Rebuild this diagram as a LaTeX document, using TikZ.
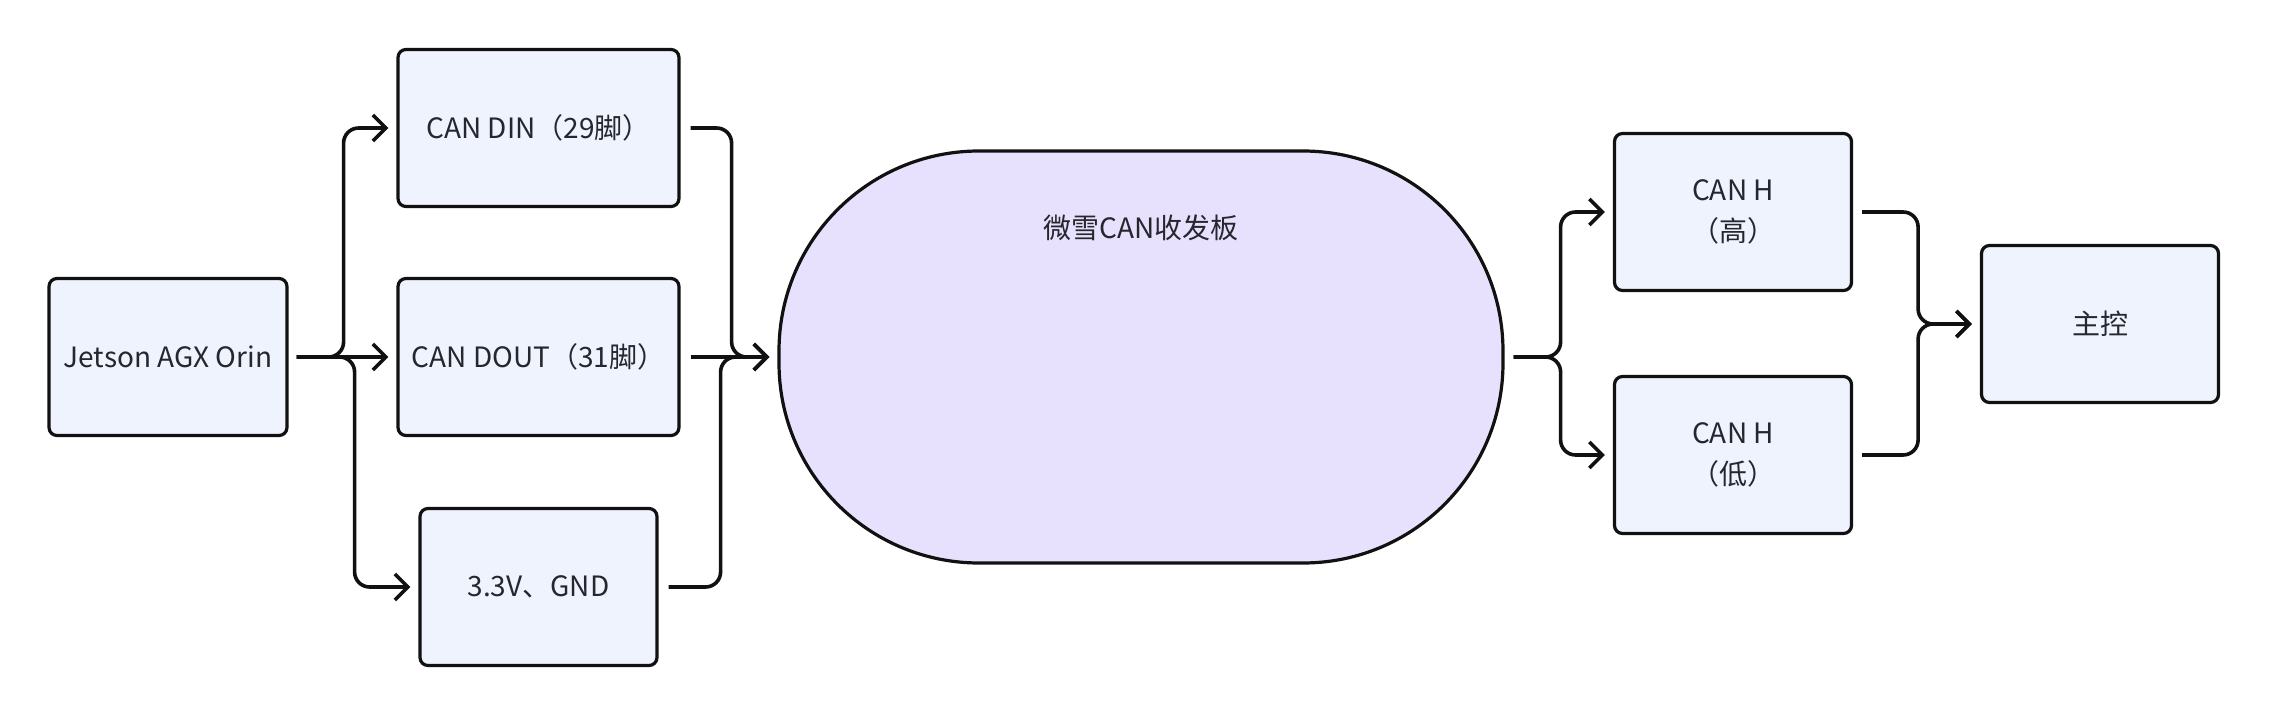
\documentclass[tikz,border=0pt]{standalone}
\usepackage{fontspec}
\setmainfont{Noto Sans CJK SC}
\usetikzlibrary{arrows.meta}
\definecolor{boxfill}{HTML}{EEF3FD}
\definecolor{boardfill}{HTML}{E8E1FD}
\definecolor{txt}{HTML}{26262E}
\definecolor{edge}{HTML}{111111}
\begin{document}
\begin{tikzpicture}[x=1pt,y=-1pt,
  blockbox/.style={draw=edge, fill=boxfill, line width=3.2pt, rounded corners=8pt,
    inner sep=0pt, align=center, text=txt, font=\fontsize{28}{41}\selectfont},
  conn/.style={draw=edge, line width=3.6pt, rounded corners=15pt,
    -{Straight Barb[length=13pt,width=26pt,line width=3.6pt]}}]
\useasboundingbox (0,0) rectangle (2270,714);
% nodes
\node[blockbox, minimum width=238pt, minimum height=157pt] (j) at (168,357) {Jetson AGX Orin};
\node[blockbox, minimum width=281pt, minimum height=157pt] (din) at (538.5,128) {CAN DIN（29脚）};
\node[blockbox, minimum width=281pt, minimum height=157pt] (dout) at (538.5,357) {CAN DOUT（31脚）};
\node[blockbox, minimum width=237pt, minimum height=157pt] (gnd) at (538.5,587) {3.3V、GND};
\node[draw=edge, fill=boardfill, line width=3.2pt, rounded corners=200pt,
  minimum width=724pt, minimum height=412pt, inner sep=0pt] (board) at (1141,357) {};
\node[text=txt, font=\fontsize{28}{41}\selectfont, anchor=center] (boardlabel) at ([yshift=-78pt]board.north) {微雪CAN收发板};
\node[blockbox, minimum width=237pt, minimum height=157pt] (hh) at (1733,212) {CAN H\\（高）};
\node[blockbox, minimum width=237pt, minimum height=157pt] (hl) at (1733,455) {CAN H\\（低）};
\node[blockbox, minimum width=237pt, minimum height=157pt] (mc) at (2100,324) {主控};
% connectors left
\draw[conn] ([xshift=8pt]j.east) -- ([xshift=55pt]j.east) |- ([xshift=-8pt]din.west);
\draw[conn] ([xshift=8pt]j.east) -- ([xshift=-8pt]dout.west);
\draw[conn] ([xshift=8pt]j.east) -- ([xshift=66pt]j.east) |- ([xshift=-8pt]gnd.west);
% connectors into board
\draw[conn] ([xshift=10pt]din.east) -- ([xshift=51pt]din.east) |- ([xshift=-8pt]board.west);
\draw[conn] ([xshift=10pt]dout.east) -- ([xshift=-8pt]board.west);
\draw[conn] ([xshift=10pt]gnd.east) -- ([xshift=62pt]gnd.east) |- ([xshift=-8pt]board.west);
% connectors right
\draw[conn] ([xshift=9pt]board.east) -- ([xshift=56pt]board.east) |- ([xshift=-8pt]hh.west);
\draw[conn] ([xshift=9pt]board.east) -- ([xshift=56pt]board.east) |- ([xshift=-8pt]hl.west);
\draw[conn] ([xshift=9pt]hh.east) -- ([xshift=65pt]hh.east) |- ([xshift=-8pt]mc.west);
\draw[conn] ([xshift=9pt]hl.east) -- ([xshift=65pt]hl.east) |- ([xshift=-8pt]mc.west);
\end{tikzpicture}
\end{document}
